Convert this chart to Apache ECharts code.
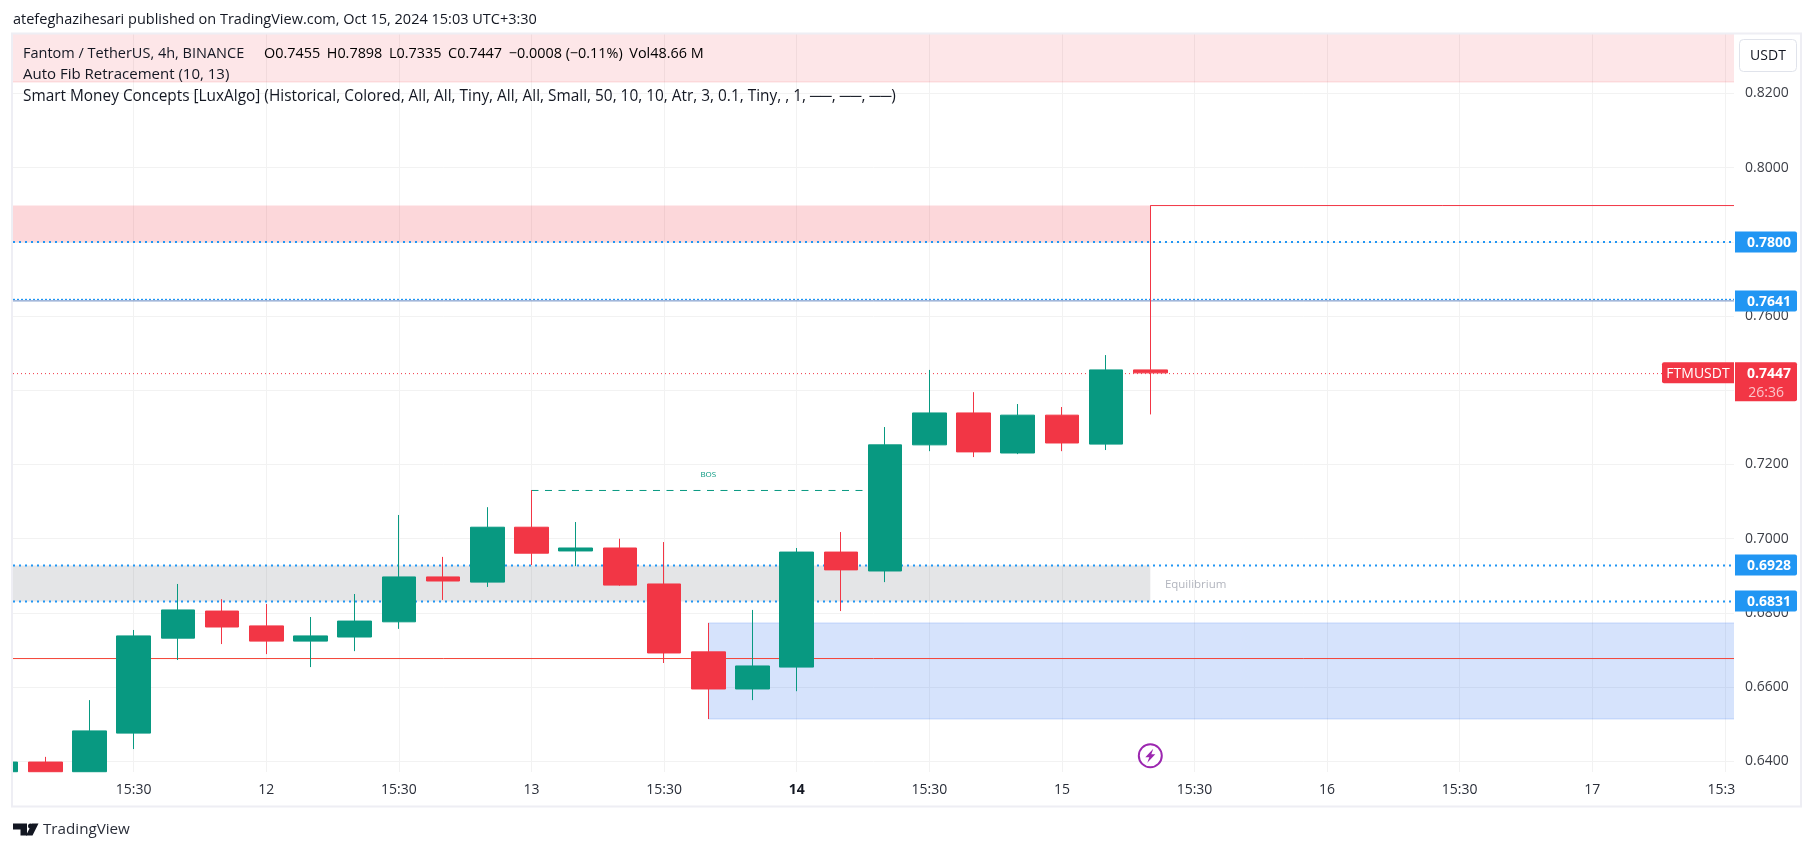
<!DOCTYPE html>
<html>
<head>
<meta charset="utf-8">
<title>FTMUSDT</title>
<style>html,body{margin:0;padding:0;background:#fff}#c{width:1814px;height:851px}</style>
<script src="https://cdn.jsdelivr.net/npm/echarts@6/dist/echarts.min.js"></script>
</head>
<body>
<div id="c"></div>
<script>
// ---------- data ----------
var barIndex = [0,1,2,3,4,5,6,7,8,9,10,11,12,13,14,15,16,17,18,19,20,21,22,23,24,25,26];
var opens  = [0.6372,0.6398,0.6372,0.6476,0.6732,0.6805,0.6765,0.6724,0.6735,0.6776,0.6897,0.6883,0.7031,0.6967,0.6975,0.6878,0.6695,0.6595,0.6654,0.6964,0.6913,0.7253,0.7339,0.7231,0.7333,0.7255,0.7455];
var closes = [0.6398,0.6372,0.6482,0.6738,0.6808,0.6762,0.6724,0.6738,0.6778,0.6897,0.6886,0.7031,0.6961,0.6975,0.6875,0.6692,0.6595,0.6657,0.6964,0.6916,0.7253,0.7339,0.7234,0.7333,0.7258,0.7455,0.7447];
var lows   = [0.6372,0.6372,0.6372,0.6433,0.6673,0.6716,0.6689,0.6654,0.6697,0.6757,0.6835,0.6870,0.6929,0.6926,0.6873,0.6665,0.6514,0.6565,0.6589,0.6805,0.6883,0.7236,0.7220,0.7228,0.7236,0.7239,0.7335];
var highs  = [0.6398,0.6412,0.6565,0.6754,0.6878,0.6837,0.6824,0.6789,0.6851,0.7064,0.6951,0.7085,0.7131,0.7045,0.7000,0.6991,0.6773,0.6808,0.6975,0.7018,0.7301,0.7455,0.7395,0.7363,0.7355,0.7495,0.7898];

var priceTicks = [0.64,0.66,0.68,0.70,0.72,0.74,0.76,0.78,0.80,0.82];
var timeTicks  = [3,6,9,12,15,18,21,24,27,30,33,36,39];
var timeLabels = ['15:30','12','15:30','13','15:30','14','15:30','15','15:30','16','15:30','17','15:3'];

var xMin = 0.2692, xMax = 39.206, yMin = 0.63712, yMax = 0.83604;

// zones: [fromBar, toBar, priceA, priceB, fill, edge]
var zoneRows = [
  [xMin, xMax, 0.8231, yMax, 'rgba(242,54,69,0.125)', 'rgba(242,54,69,0.16)'],
  [xMin, 26, 0.7898, 0.7799, 'rgba(242,54,69,0.2)', null],
  [xMin, 26, 0.6928, 0.6831, 'rgba(120,123,134,0.2)', null],
  [16, xMax, 0.6773, 0.6514, 'rgba(50,115,240,0.2)', 'rgba(50,115,240,0.22)']
];
// horizontal levels: [name, fromBar, toBar, price, colour, width, dash]
var levelRows = [
  ['Fib 0.78',   xMin, xMax, 0.7800, '#2196f3', 2, [2,4]],
  ['Fib 0.7641', xMin, xMax, 0.7645, '#2196f3', 1.2, [2,2]],
  ['Level 0.7641', xMin, xMax, 0.7641, '#6a8cc4', 1, null],
  ['Fib 0.6928', xMin, xMax, 0.6928, '#2196f3', 2, [2,4]],
  ['Fib 0.6831', xMin, xMax, 0.6831, '#2196f3', 2, [2,4]],
  ['Last', xMin, xMax, 0.7445, '#f23645', 1, [1,3]],
  ['Low line', xMin, xMax, 0.6677, '#f44336', 1, null],
  ['High line', 26, xMax, 0.7898, '#f23645', 1, null],
  ['BOS', 12, 20, 0.7130, '#089981', 1, [7,6.5]]
];
var priceTags = [
  ['0.7800', 0.7800], ['0.7641', 0.7641], ['0.6928', 0.6928], ['0.6831', 0.6831]
];
var lastPrice = 0.7447, lastCountdown = '26:36', symbolTag = 'FTMUSDT';
var notes = [
  ['BOS', 16, 0.7172, '#089981', 8, 'center'],
  ['Equilibrium', 26.33, 0.6875, '#b2b5be', 11.5, 'left']
];
var eventBar = 26, eventPrice = 0.6415;

var UI = '"Open Sans", sans-serif';
var RED = '#f23645', GREEN = '#089981';

// ---------- chart ----------
var chart = echarts.init(document.getElementById('c'), null, {renderer:'canvas'});

var candleData = barIndex.map(function(b,i){ return [b,opens[i],closes[i],lows[i],highs[i]]; });

var series = [];
series.push({
  name:'Zones', type:'custom', z:1, silent:true, clip:true,
  data: zoneRows.map(function(r){ return r.slice(0,4); }),
  dimensions:['a','b','c','d'],
  encode:{x:[0,1],y:[2,3]},
  renderItem:function(p,api){
    var r = zoneRows[p.dataIndex];
    var a = api.coord([r[0],r[3]]), b = api.coord([r[1],r[2]]);
    var x=a[0], y=Math.min(a[1],b[1]), w=b[0]-a[0], h=Math.abs(b[1]-a[1]);
    var kids=[{type:'rect',shape:{x:x,y:y,width:w,height:h},style:{fill:r[4]}}];
    if(r[5]){
      kids.push({type:'line',shape:{x1:x,y1:b[1],x2:x+w,y2:b[1]},style:{stroke:r[5],lineWidth:1}});
      if(r[3]<yMax) kids.push({type:'line',shape:{x1:x,y1:a[1],x2:x+w,y2:a[1]},style:{stroke:r[5],lineWidth:1}});
    }
    return {type:'group',children:kids};
  }
});
levelRows.forEach(function(l){
  series.push({
    name:l[0], type:'line', z:2, silent:true, symbol:'none', animation:false,
    data:[[l[1],l[3]],[l[2],l[3]]],
    lineStyle:{color:l[4],width:l[5],type:l[6]||'solid'}
  });
});
series.push({
  name:'FTMUSDT', type:'candlestick', z:3, barWidth:34, animation:false, silent:true,
  data:candleData, encode:{x:0,y:[1,2,3,4]},
  itemStyle:{color:GREEN,color0:RED,borderColor:GREEN,borderColor0:RED,borderWidth:1}
});
series.push({
  name:'Notes', type:'custom', z:4, silent:true, clip:false,
  data:notes.map(function(n){return [n[1],n[2]];}),
  renderItem:function(p,api){
    var n=notes[p.dataIndex], c=api.coord([n[1],n[2]]);
    return {type:'text',style:{x:c[0],y:c[1],text:n[0],fill:n[3],font:n[4]+'px '+UI,align:n[5],verticalAlign:'middle'}};
  }
});
series.push({
  name:'Event', type:'custom', z:4, silent:true, clip:false,
  data:[[eventBar,eventPrice]],
  renderItem:function(p,api){
    var c=api.coord([eventBar,eventPrice]), x=c[0], y=c[1];
    return {type:'group',children:[
      {type:'circle',shape:{cx:x,cy:y,r:11.5},style:{fill:'#fff',stroke:'#9c27b0',lineWidth:2}},
      {type:'polygon',shape:{points:[[x+3,y-7],[x-5,y+1.5],[x-1,y+1.5],[x-3,y+7],[x+5,y-1.5],[x+1,y-1.5]]},style:{fill:'#9c27b0'}}
    ]};
  }
});
series.push({
  name:'Price tags', type:'custom', z:5, silent:true, clip:false,
  data:priceTags.map(function(t){return [xMax,t[1]];}).concat([[xMax,lastPrice]]),
  renderItem:function(p,api){
    var i=p.dataIndex, font='14px '+UI;
    if(i<priceTags.length){
      var c=api.coord([xMax,priceTags[i][1]]);
      return {type:'group',children:[
        {type:'rect',shape:{x:c[0]+1,y:Math.round(c[1])-10.5,width:62,height:21,r:[0,2,2,0]},style:{fill:'#2196f3'}},
        {type:'text',style:{x:c[0]+57,y:c[1]+1,text:priceTags[i][0],fill:'#fff',font:'bold 14px '+UI,align:'right',verticalAlign:'middle'}}
      ]};
    }
    var d=api.coord([xMax,lastPrice]);
    return {type:'group',children:[
      {type:'rect',shape:{x:d[0]-72,y:d[1]-10.5,width:72,height:21,r:[2,0,0,2]},style:{fill:RED}},
      {type:'text',style:{x:d[0]-36,y:d[1]+1,text:symbolTag,fill:'#fff',font:'14px '+UI,align:'center',verticalAlign:'middle'}},
      {type:'rect',shape:{x:d[0]+1,y:d[1]-10.5,width:62,height:39,r:[0,2,2,0]},style:{fill:RED}},
      {type:'text',style:{x:d[0]+57,y:d[1]+1,text:lastPrice.toFixed(4),fill:'#fff',font:'bold 14px '+UI,align:'right',verticalAlign:'middle'}},
      {type:'text',style:{x:d[0]+50,y:d[1]+20,text:lastCountdown,fill:'#fbc4c9',font:font,align:'right',verticalAlign:'middle'}}
    ]};
  }
});

var legendRich = {
  d:{color:'#131722',font:'14.4px '+UI},
  r:{color:RED,font:'14.4px '+UI}
};

chart.setOption({
  animation:false,
  backgroundColor:'#ffffff',
  grid:{left:13,right:80,top:34,bottom:79,containLabel:false},
  xAxis:{
    type:'value', min:xMin, max:xMax,
    axisLine:{show:false},
    axisTick:{show:false,customValues:timeTicks},
    splitLine:{show:true,lineStyle:{color:'#f2f2f2',width:1}},
    axisLabel:{
      customValues:timeTicks, margin:11, color:'#2a2e39', fontFamily:UI, fontSize:14,
      formatter:function(v){
        var s=timeLabels[timeTicks.indexOf(v)];
        if(s==='14') return '{b|14}';
        if(s==='15:3') return '{e|15:3}';
        return s;
      },
      rich:{
        b:{fontWeight:'bold',fontFamily:UI,fontSize:14,color:'#131722'},
        e:{fontFamily:UI,fontSize:14,color:'#2a2e39',padding:[0,7,0,0]}
      }
    }
  },
  yAxis:{
    type:'value', position:'right', min:yMin, max:yMax, scale:true,
    axisLine:{show:false},
    axisTick:{show:false,customValues:priceTicks},
    splitLine:{show:true,lineStyle:{color:'#f2f2f2',width:1}},
    axisLabel:{
      customValues:priceTicks, margin:11, color:'#3b3e46', fontFamily:UI, fontSize:14,
      padding:[2,0,0,0],
      formatter:function(v){return v.toFixed(4);}
    }
  },
  series:series,
  graphic:[
    {type:'rect',z:50,silent:true,shape:{x:0,y:30,width:12,height:745},style:{fill:'#fff'}},
    {type:'rect',z:50,silent:true,shape:{x:12,y:33.5,width:1789,height:773},style:{fill:'none',stroke:'#eeeef4',lineWidth:2}},
    {type:'text',z:50,silent:true,x:13,y:20,style:{text:'atefeghazihesari published on TradingView.com, Oct 15, 2024 15:03 UTC+3:30',fill:'#131722',font:'14.5px '+UI,verticalAlign:'middle'}},
    {type:'text',z:50,silent:true,x:23,y:54,style:{text:'Fantom / TetherUS, 4h, BINANCE',fill:'#131722',font:'14.5px '+UI,verticalAlign:'middle'}},
    {type:'text',z:50,silent:true,x:264,y:54,style:{
      text:'{d|O}{r|0.7455}  {d|H}{r|0.7898}  {d|L}{r|0.7335}  {d|C}{r|0.7447}  {r|−0.0008 (−0.11%)}  {d|Vol}{r|48.66 M}',
      rich:legendRich,verticalAlign:'middle'}},
    {type:'text',z:50,silent:true,x:23,y:75,style:{text:'Auto Fib Retracement (10, 13)',fill:'#131722',font:'15px '+UI,verticalAlign:'middle'}},
    {type:'text',z:50,silent:true,x:23,y:97,style:{text:'Smart Money Concepts [LuxAlgo] (Historical, Colored, All, All, Tiny, All, All, Small, 50, 10, 10, Atr, 3, 0.1, Tiny, , 1, ──, ──, ──)',fill:'#131722',font:'15.4px '+UI,verticalAlign:'middle'}},
    {type:'rect',z:50,silent:true,shape:{x:1739.5,y:39.5,width:57,height:32,r:4},style:{fill:'#fff',stroke:'#e0e3eb',lineWidth:1}},
    {type:'text',z:51,silent:true,x:1768,y:56,style:{text:'USDT',fill:'#131722',font:'14px '+UI,align:'center',verticalAlign:'middle'}},
    {type:'polygon',z:50,silent:true,shape:{points:[[13,823.5],[27,823.5],[27,835.5],[20.5,835.5],[20.5,829.5],[13,829.5]]},style:{fill:'#131722'}},
    {type:'polygon',z:50,silent:true,shape:{points:[[32,823.5],[38.5,823.5],[32.5,835.5],[26,835.5]]},style:{fill:'#131722'}},
    {type:'circle',z:50,silent:true,shape:{cx:30.5,cy:826,r:2.5},style:{fill:'#131722'}},
    {type:'text',z:50,silent:true,x:43,y:830,style:{text:'TradingView',fill:'#2a2e39',font:'15.2px '+UI,verticalAlign:'middle'}}
  ]
});
</script>
</body>
</html>
